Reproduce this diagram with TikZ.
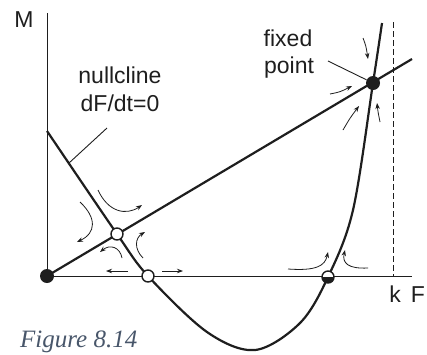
\documentclass[tikz,border=0pt]{standalone}
\usepackage{fontspec}
\setmainfont{Liberation Sans}
\newfontfamily\capfont{Liberation Serif}[UprightFont={* Italic}]
\usetikzlibrary{arrows.meta}
\definecolor{capcol}{RGB}{72,86,106}
\definecolor{ink}{RGB}{30,30,30}
\begin{document}
\begin{tikzpicture}[x=1pt,y=-1pt,
  thickline/.style={line width=2.2pt, draw=ink},
  thinline/.style={line width=0.9pt, draw=ink},
  flow/.style={line width=0.8pt, draw=ink, -{Stealth[length=6pt,width=4.5pt]}},
  lbl/.style={font=\fontsize{23}{28}\selectfont, text=ink, inner sep=0pt, anchor=base},
  filleddot/.style={circle, fill=ink, minimum size=14pt, inner sep=0pt},
  opendot/.style={circle, draw=ink, fill=white, line width=1.4pt, minimum size=12pt, inner sep=0pt},
  halfdot/.style={circle, draw=ink, fill=white, line width=1.4pt, minimum size=12pt, inner sep=0pt,
     path picture={\fill[ink] (path picture bounding box.west) rectangle (path picture bounding box.south east);}}
]
\useasboundingbox (0,0) rectangle (427,354);

% axes
\coordinate (ytop) at (47,13);
\coordinate (O) at (47,276);
\coordinate (xend) at (412,276);
\draw[thinline] (ytop) -- (O) -- (xend);

% dashed line at k
\coordinate (ktop) at (393,22);
\coordinate (kbot) at (393,276);
\draw[thinline, line width=0.8pt, dash pattern=on 6pt off 3pt] (ktop) -- (kbot);

% straight nullcline
\coordinate (lineend) at (412,59);
\draw[thickline] (O) -- (lineend);

% curved nullcline dF/dt=0
\draw[thickline] plot[smooth, tension=0.55] coordinates {
  (47,131) (117,234) (148,276) (207,332) (255,350) (300,323) (328,277) (353,210) (373,83) (382,23)};

% leader lines
\coordinate (nlA) at (107,128);
\coordinate (nlB) at (69,163);
\draw[thinline] (nlA) -- (nlB);

% fixed points
\node[filleddot] (origin) at (47,276) {};
\node[filleddot] (fp) at (373,83) {};
\node[opendot] (saddle) at (117,234) {};
\node[opendot] (unst) at (148,276) {};
\node[halfdot] (half) at (328,277) {};

\coordinate (fpl) at (328,61);
\draw[thinline] (fpl) -- (fp);

% flow arrows
\draw[flow] (80,202) .. controls (97,218) and (96,233) .. (77,242);
\draw[flow] (98,190) .. controls (108,212) and (126,216) .. (142,205);
\draw[flow] (143,258) .. controls (134,249) and (135,238) .. (145,232);
\draw[flow] (122,258) .. controls (120,247) and (110,244) .. (100,252);
\draw[flow] (128,271) -- (106,271);
\draw[flow] (162,271) -- (183,271);
\draw[flow] (288,269) .. controls (316,271) and (325,266) .. (328,252);
\draw[flow] (368,268) .. controls (348,269) and (342,263) .. (345,250);
\draw[flow] (363,38) .. controls (366,46) .. (368,59);
\draw[flow] (330,94) .. controls (340,92) .. (352,86);
\draw[flow] (343,130) .. controls (350,118) .. (359,106);
\draw[flow] (380,122) .. controls (378,112) .. (377,103);

% labels
\node[lbl] (M) at (24,27) {M};
\node[lbl] (k) at (395,302) {k};
\node[lbl] (F) at (418,302) {F};
\node[lbl] (nc1) at (120,83) {nullcline};
\node[lbl] (nc2) at (120,111) {dF/dt=0};
\node[lbl] (fx1) at (288,46) {fixed};
\node[lbl] (fx2) at (289,73) {point};
\node[inner sep=0pt, anchor=base west, text=capcol, font=\capfont\fontsize{25}{30}\selectfont] (cap) at (20,347) {Figure 8.14};
\end{tikzpicture}
\end{document}
